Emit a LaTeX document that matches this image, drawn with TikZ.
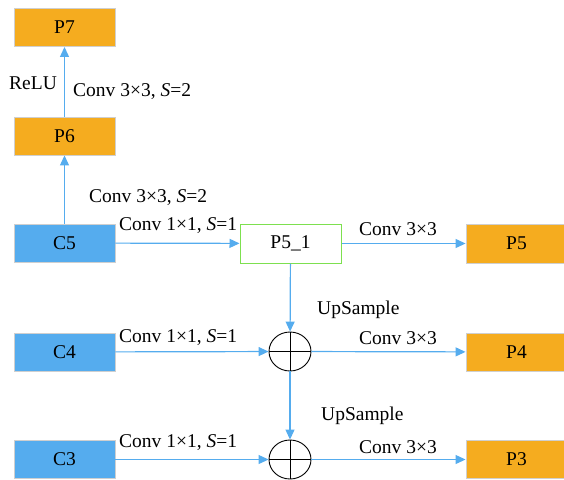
\documentclass[tikz,border=0pt]{standalone}
\usepackage{fontspec}
\setmainfont{Liberation Serif}
\usetikzlibrary{arrows.meta,shapes.geometric}
\definecolor{cblue}{HTML}{55ACEE}
\definecolor{lblue}{HTML}{55ACEE}
\definecolor{porange}{HTML}{F5AC1F}
\definecolor{boxline}{HTML}{CFCFCF}
\definecolor{pgreen}{HTML}{7DE04F}
\tikzset{
  lvl/.style={minimum width=101pt, minimum height=38pt, inner sep=0pt, draw=boxline, line width=0.9pt},
  cbox/.style={lvl, fill=cblue},
  pbox/.style={lvl, fill=porange},
  midbox/.style={lvl, fill=white, draw=pgreen, line width=1pt},
  plus/.style={ellipse, draw=black, line width=0.9pt, minimum width=42pt, minimum height=39pt, inner sep=0pt,
    path picture={
      \draw[black, line width=0.9pt] (path picture bounding box.north) -- (path picture bounding box.south)
        (path picture bounding box.west) -- (path picture bounding box.east);}},
  flow/.style={draw=lblue, line width=1.2pt, -{Triangle[length=10pt,width=9pt]}},
  lbl/.style={anchor=west, inner sep=0pt},
}
\begin{document}
\begin{tikzpicture}[x=1pt, y=-1pt, font=\fontsize{19.5}{23}\selectfont]
\useasboundingbox (0,0) rectangle (564,479);

% pyramid levels
\node[pbox] (p7) at (64.5,27.5) {P7};
\node[pbox] (p6) at (64.5,136) {P6};
\node[cbox] (c5) at (64.5,243) {C5};
\node[cbox] (c4) at (64.5,352) {C4};
\node[cbox] (c3) at (64.5,459.5) {C3};
\node[midbox, minimum height=39pt] (p51) at (290.5,243.5) {P5\_1};
\node[pbox, minimum height=39pt] (p5) at (516.5,243.5) {P5};
\node[pbox] (p4) at (516.5,352) {P4};
\node[pbox] (p3) at (516.5,459.5) {P3};

% element-wise sums
\node[plus] (s4) at (290,351.5) {};
\node[plus] (s3) at (290,459.5) {};

% connections
\draw[flow] (c5) -- (p6);
\draw[flow] (p6) -- (p7);
\draw[flow] (c5) -- (p51);
\draw[flow] (p51) -- (p5);
\draw[flow] (p51) -- (s4);
\draw[flow] (c4) -- (s4);
\draw[flow] (s4) -- (p4);
\draw[flow] (s4) -- (s3);
\draw[flow] (c3) -- (s3);
\draw[flow] (s3) -- (p3);

% operation labels
\node[anchor=center, inner sep=0pt] (relu) at (33,83) {ReLU};
\node[lbl] (l76) at (73,92) {Conv 3×3, \textit{S}=2};
\node[lbl] (l65) at (89,198) {Conv 3×3, \textit{S}=2};
\node[lbl] (l5a) at (119,226) {Conv 1×1, \textit{S}=1};
\node[lbl] (l5b) at (359,229) {Conv 3×3};
\node[lbl] (u4) at (317,310) {UpSample};
\node[lbl] (l4a) at (119,338) {Conv 1×1, \textit{S}=1};
\node[lbl] (l4b) at (359,338) {Conv 3×3};
\node[lbl] (u3) at (321,416) {UpSample};
\node[lbl] (l3a) at (119,443) {Conv 1×1, \textit{S}=1};
\node[lbl] (l3b) at (359,447) {Conv 3×3};
\end{tikzpicture}
\end{document}
